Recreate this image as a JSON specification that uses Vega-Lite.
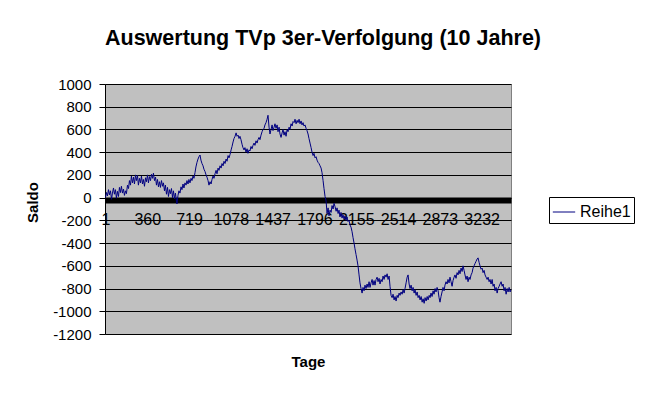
{
"$schema": "https://vega.github.io/schema/vega-lite/v6.json",
"width": 406, "height": 250,
"autosize": {"type": "none"},
"padding": {"left": 105, "top": 84, "right": 134, "bottom": 61},
"background": "white",
"title": {"text": "Auswertung TVp 3er-Verfolgung (10 Jahre)", "font": "Liberation Sans", "fontSize": 21.5, "fontWeight": "bold", "color": "black", "anchor": "middle", "dx": 15, "baseline": "alphabetic", "offset": 11},
"data": {"values": [
{"Tag":1,"Saldo":0},{"Tag":10,"Saldo":45},{"Tag":18,"Saldo":15},{"Tag":27,"Saldo":70},{"Tag":35,"Saldo":25},{"Tag":44,"Saldo":60},{"Tag":53,"Saldo":-15},{"Tag":61,"Saldo":40},{"Tag":70,"Saldo":85},{"Tag":78,"Saldo":30},{"Tag":87,"Saldo":70},{"Tag":95,"Saldo":-5},{"Tag":104,"Saldo":55},{"Tag":113,"Saldo":10},{"Tag":121,"Saldo":90},{"Tag":130,"Saldo":45},{"Tag":138,"Saldo":100},{"Tag":147,"Saldo":40},{"Tag":156,"Saldo":75},{"Tag":164,"Saldo":20},{"Tag":173,"Saldo":60},{"Tag":181,"Saldo":35},{"Tag":190,"Saldo":110},{"Tag":199,"Saldo":80},{"Tag":207,"Saldo":150},{"Tag":216,"Saldo":110},{"Tag":224,"Saldo":190},{"Tag":233,"Saldo":130},{"Tag":242,"Saldo":180},{"Tag":250,"Saldo":120},{"Tag":259,"Saldo":200},{"Tag":267,"Saldo":150},{"Tag":276,"Saldo":195},{"Tag":284,"Saldo":110},{"Tag":293,"Saldo":170},{"Tag":302,"Saldo":130},{"Tag":310,"Saldo":190},{"Tag":319,"Saldo":120},{"Tag":327,"Saldo":160},{"Tag":336,"Saldo":100},{"Tag":345,"Saldo":175},{"Tag":353,"Saldo":140},{"Tag":362,"Saldo":200},{"Tag":370,"Saldo":130},{"Tag":379,"Saldo":185},{"Tag":388,"Saldo":150},{"Tag":396,"Saldo":205},{"Tag":405,"Saldo":170},{"Tag":413,"Saldo":215},{"Tag":422,"Saldo":150},{"Tag":431,"Saldo":180},{"Tag":439,"Saldo":110},{"Tag":448,"Saldo":160},{"Tag":456,"Saldo":95},{"Tag":465,"Saldo":140},{"Tag":473,"Saldo":90},{"Tag":482,"Saldo":150},{"Tag":491,"Saldo":100},{"Tag":499,"Saldo":130},{"Tag":508,"Saldo":60},{"Tag":516,"Saldo":110},{"Tag":525,"Saldo":30},{"Tag":534,"Saldo":90},{"Tag":542,"Saldo":10},{"Tag":551,"Saldo":70},{"Tag":559,"Saldo":35},{"Tag":568,"Saldo":80},{"Tag":577,"Saldo":0},{"Tag":585,"Saldo":60},{"Tag":594,"Saldo":-10},{"Tag":602,"Saldo":40},{"Tag":611,"Saldo":-30},
{"Tag":615,"Saldo":-55},{"Tag":624,"Saldo":20},{"Tag":632,"Saldo":60},{"Tag":641,"Saldo":40},{"Tag":650,"Saldo":95},{"Tag":658,"Saldo":70},{"Tag":667,"Saldo":120},{"Tag":675,"Saldo":85},{"Tag":684,"Saldo":130},{"Tag":693,"Saldo":110},{"Tag":701,"Saldo":150},{"Tag":710,"Saldo":120},{"Tag":718,"Saldo":160},{"Tag":727,"Saldo":130},{"Tag":736,"Saldo":170},{"Tag":744,"Saldo":150},{"Tag":753,"Saldo":190},{"Tag":761,"Saldo":170},{"Tag":770,"Saldo":220},{"Tag":778,"Saldo":270},{"Tag":787,"Saldo":310},{"Tag":796,"Saldo":340},{"Tag":804,"Saldo":360},{"Tag":813,"Saldo":375},
{"Tag":821,"Saldo":330},{"Tag":830,"Saldo":300},{"Tag":839,"Saldo":280},{"Tag":847,"Saldo":250},{"Tag":856,"Saldo":230},{"Tag":865,"Saldo":200},{"Tag":873,"Saldo":180},{"Tag":882,"Saldo":150},{"Tag":890,"Saldo":110},{"Tag":899,"Saldo":140},
{"Tag":908,"Saldo":120},{"Tag":916,"Saldo":160},{"Tag":925,"Saldo":190},{"Tag":933,"Saldo":170},{"Tag":942,"Saldo":210},{"Tag":951,"Saldo":240},{"Tag":959,"Saldo":210},{"Tag":968,"Saldo":260},{"Tag":976,"Saldo":240},{"Tag":985,"Saldo":280},
{"Tag":994,"Saldo":260},{"Tag":1002,"Saldo":300},{"Tag":1011,"Saldo":280},{"Tag":1019,"Saldo":320},{"Tag":1028,"Saldo":300},{"Tag":1037,"Saldo":340},{"Tag":1045,"Saldo":320},{"Tag":1054,"Saldo":370},{"Tag":1062,"Saldo":350},{"Tag":1071,"Saldo":380},
{"Tag":1080,"Saldo":420},{"Tag":1088,"Saldo":450},{"Tag":1097,"Saldo":490},{"Tag":1105,"Saldo":520},{"Tag":1114,"Saldo":540},{"Tag":1123,"Saldo":570},{"Tag":1131,"Saldo":540},{"Tag":1140,"Saldo":550},{"Tag":1148,"Saldo":520},{"Tag":1156,"Saldo":540},
{"Tag":1165,"Saldo":510},{"Tag":1174,"Saldo":470},{"Tag":1182,"Saldo":440},{"Tag":1191,"Saldo":420},{"Tag":1199,"Saldo":440},{"Tag":1208,"Saldo":400},{"Tag":1217,"Saldo":430},{"Tag":1225,"Saldo":390},{"Tag":1234,"Saldo":420},{"Tag":1242,"Saldo":410},
{"Tag":1251,"Saldo":450},{"Tag":1260,"Saldo":430},{"Tag":1268,"Saldo":460},{"Tag":1277,"Saldo":480},{"Tag":1285,"Saldo":460},{"Tag":1294,"Saldo":500},{"Tag":1303,"Saldo":480},{"Tag":1311,"Saldo":510},{"Tag":1320,"Saldo":530},{"Tag":1328,"Saldo":510},
{"Tag":1337,"Saldo":550},{"Tag":1346,"Saldo":580},{"Tag":1354,"Saldo":600},{"Tag":1363,"Saldo":610},{"Tag":1371,"Saldo":640},{"Tag":1380,"Saldo":660},{"Tag":1389,"Saldo":690},{"Tag":1397,"Saldo":725},{"Tag":1406,"Saldo":620},{"Tag":1414,"Saldo":560},
{"Tag":1423,"Saldo":600},{"Tag":1432,"Saldo":640},{"Tag":1440,"Saldo":590},{"Tag":1449,"Saldo":620},{"Tag":1457,"Saldo":650},{"Tag":1466,"Saldo":610},{"Tag":1475,"Saldo":640},{"Tag":1483,"Saldo":580},{"Tag":1492,"Saldo":620},{"Tag":1500,"Saldo":560},
{"Tag":1509,"Saldo":530},{"Tag":1518,"Saldo":570},{"Tag":1526,"Saldo":600},{"Tag":1535,"Saldo":550},{"Tag":1543,"Saldo":580},{"Tag":1552,"Saldo":540},{"Tag":1561,"Saldo":600},{"Tag":1569,"Saldo":580},{"Tag":1578,"Saldo":620},{"Tag":1586,"Saldo":600},
{"Tag":1595,"Saldo":650},{"Tag":1604,"Saldo":630},{"Tag":1612,"Saldo":670},{"Tag":1621,"Saldo":660},{"Tag":1629,"Saldo":690},{"Tag":1638,"Saldo":650},{"Tag":1647,"Saldo":680},{"Tag":1655,"Saldo":660},{"Tag":1664,"Saldo":690},{"Tag":1672,"Saldo":650},
{"Tag":1681,"Saldo":675},{"Tag":1689,"Saldo":640},{"Tag":1698,"Saldo":660},{"Tag":1706,"Saldo":630},{"Tag":1715,"Saldo":640},{"Tag":1724,"Saldo":610},{"Tag":1732,"Saldo":590},{"Tag":1741,"Saldo":560},{"Tag":1749,"Saldo":520},{"Tag":1758,"Saldo":480},
{"Tag":1767,"Saldo":440},{"Tag":1775,"Saldo":400},{"Tag":1784,"Saldo":370},{"Tag":1792,"Saldo":390},{"Tag":1801,"Saldo":350},{"Tag":1810,"Saldo":360},{"Tag":1818,"Saldo":330},{"Tag":1827,"Saldo":310},{"Tag":1835,"Saldo":300},{"Tag":1844,"Saldo":280},
{"Tag":1853,"Saldo":260},{"Tag":1861,"Saldo":220},{"Tag":1870,"Saldo":150},{"Tag":1878,"Saldo":80},{"Tag":1887,"Saldo":10},{"Tag":1896,"Saldo":-30},{"Tag":1904,"Saldo":-140},{"Tag":1913,"Saldo":-90},{"Tag":1921,"Saldo":-160},{"Tag":1930,"Saldo":-110},
{"Tag":1939,"Saldo":-130},{"Tag":1947,"Saldo":-70},{"Tag":1956,"Saldo":-100},{"Tag":1964,"Saldo":-50},{"Tag":1973,"Saldo":-80},{"Tag":1982,"Saldo":-120},{"Tag":1990,"Saldo":-90},{"Tag":1999,"Saldo":-140},{"Tag":2007,"Saldo":-110},{"Tag":2015,"Saldo":-170},
{"Tag":2024,"Saldo":-130},{"Tag":2033,"Saldo":-180},{"Tag":2041,"Saldo":-150},{"Tag":2050,"Saldo":-190},{"Tag":2058,"Saldo":-160},{"Tag":2067,"Saldo":-200},{"Tag":2076,"Saldo":-170},{"Tag":2084,"Saldo":-210},{"Tag":2093,"Saldo":-200},{"Tag":2101,"Saldo":-240},
{"Tag":2110,"Saldo":-260},{"Tag":2119,"Saldo":-300},{"Tag":2127,"Saldo":-350},{"Tag":2136,"Saldo":-400},{"Tag":2144,"Saldo":-450},{"Tag":2153,"Saldo":-500},{"Tag":2162,"Saldo":-550},{"Tag":2170,"Saldo":-600},{"Tag":2179,"Saldo":-680},{"Tag":2187,"Saldo":-750},
{"Tag":2196,"Saldo":-800},{"Tag":2205,"Saldo":-840},{"Tag":2213,"Saldo":-790},{"Tag":2222,"Saldo":-820},{"Tag":2230,"Saldo":-770},{"Tag":2239,"Saldo":-800},{"Tag":2248,"Saldo":-760},{"Tag":2256,"Saldo":-790},{"Tag":2265,"Saldo":-740},{"Tag":2273,"Saldo":-790},
{"Tag":2282,"Saldo":-750},{"Tag":2291,"Saldo":-720},{"Tag":2299,"Saldo":-770},{"Tag":2308,"Saldo":-730},{"Tag":2316,"Saldo":-770},{"Tag":2325,"Saldo":-720},{"Tag":2334,"Saldo":-700},{"Tag":2342,"Saldo":-740},{"Tag":2351,"Saldo":-710},{"Tag":2359,"Saldo":-760},
{"Tag":2368,"Saldo":-720},{"Tag":2377,"Saldo":-740},{"Tag":2385,"Saldo":-690},{"Tag":2394,"Saldo":-720},{"Tag":2402,"Saldo":-680},{"Tag":2411,"Saldo":-700},{"Tag":2420,"Saldo":-670},{"Tag":2428,"Saldo":-720},{"Tag":2437,"Saldo":-690},{"Tag":2445,"Saldo":-780},
{"Tag":2454,"Saldo":-860},{"Tag":2463,"Saldo":-880},{"Tag":2471,"Saldo":-850},{"Tag":2480,"Saldo":-900},{"Tag":2488,"Saldo":-870},{"Tag":2497,"Saldo":-910},{"Tag":2506,"Saldo":-860},{"Tag":2514,"Saldo":-880},{"Tag":2523,"Saldo":-840},{"Tag":2531,"Saldo":-860},
{"Tag":2540,"Saldo":-830},{"Tag":2549,"Saldo":-850},{"Tag":2557,"Saldo":-810},{"Tag":2566,"Saldo":-840},{"Tag":2574,"Saldo":-800},{"Tag":2583,"Saldo":-750},{"Tag":2592,"Saldo":-700},{"Tag":2600,"Saldo":-680},{"Tag":2609,"Saldo":-760},{"Tag":2617,"Saldo":-800},
{"Tag":2626,"Saldo":-770},{"Tag":2635,"Saldo":-820},{"Tag":2643,"Saldo":-790},{"Tag":2652,"Saldo":-840},{"Tag":2660,"Saldo":-810},{"Tag":2669,"Saldo":-860},{"Tag":2678,"Saldo":-830},{"Tag":2686,"Saldo":-880},{"Tag":2695,"Saldo":-860},{"Tag":2703,"Saldo":-900},
{"Tag":2712,"Saldo":-870},{"Tag":2721,"Saldo":-920},{"Tag":2729,"Saldo":-890},{"Tag":2738,"Saldo":-930},{"Tag":2746,"Saldo":-880},{"Tag":2755,"Saldo":-910},{"Tag":2764,"Saldo":-870},{"Tag":2772,"Saldo":-900},{"Tag":2781,"Saldo":-860},{"Tag":2789,"Saldo":-880},
{"Tag":2797,"Saldo":-840},{"Tag":2806,"Saldo":-870},{"Tag":2815,"Saldo":-820},{"Tag":2823,"Saldo":-850},{"Tag":2832,"Saldo":-800},{"Tag":2840,"Saldo":-830},{"Tag":2849,"Saldo":-790},{"Tag":2858,"Saldo":-820},{"Tag":2866,"Saldo":-880},{"Tag":2874,"Saldo":-920},
{"Tag":2883,"Saldo":-870},{"Tag":2892,"Saldo":-830},{"Tag":2900,"Saldo":-790},{"Tag":2909,"Saldo":-820},{"Tag":2917,"Saldo":-770},{"Tag":2926,"Saldo":-740},{"Tag":2935,"Saldo":-760},{"Tag":2943,"Saldo":-720},{"Tag":2952,"Saldo":-750},{"Tag":2960,"Saldo":-700},
{"Tag":2969,"Saldo":-740},{"Tag":2978,"Saldo":-780},{"Tag":2986,"Saldo":-730},{"Tag":2995,"Saldo":-700},{"Tag":3003,"Saldo":-680},{"Tag":3012,"Saldo":-710},{"Tag":3021,"Saldo":-660},{"Tag":3029,"Saldo":-680},{"Tag":3038,"Saldo":-640},{"Tag":3046,"Saldo":-670},
{"Tag":3055,"Saldo":-620},{"Tag":3064,"Saldo":-650},{"Tag":3072,"Saldo":-600},{"Tag":3081,"Saldo":-640},{"Tag":3089,"Saldo":-680},{"Tag":3098,"Saldo":-720},{"Tag":3107,"Saldo":-690},{"Tag":3115,"Saldo":-740},{"Tag":3124,"Saldo":-700},{"Tag":3132,"Saldo":-720},
{"Tag":3141,"Saldo":-680},{"Tag":3150,"Saldo":-660},{"Tag":3158,"Saldo":-620},{"Tag":3167,"Saldo":-600},{"Tag":3175,"Saldo":-580},{"Tag":3184,"Saldo":-560},{"Tag":3193,"Saldo":-540},{"Tag":3201,"Saldo":-530},{"Tag":3210,"Saldo":-570},{"Tag":3218,"Saldo":-600},
{"Tag":3227,"Saldo":-630},{"Tag":3236,"Saldo":-620},{"Tag":3244,"Saldo":-660},{"Tag":3253,"Saldo":-640},{"Tag":3261,"Saldo":-680},{"Tag":3270,"Saldo":-700},{"Tag":3279,"Saldo":-720},{"Tag":3287,"Saldo":-700},{"Tag":3296,"Saldo":-740},{"Tag":3304,"Saldo":-720},
{"Tag":3313,"Saldo":-760},{"Tag":3322,"Saldo":-720},{"Tag":3330,"Saldo":-780},{"Tag":3339,"Saldo":-760},{"Tag":3347,"Saldo":-820},{"Tag":3356,"Saldo":-790},{"Tag":3365,"Saldo":-840},{"Tag":3373,"Saldo":-800},{"Tag":3382,"Saldo":-780},{"Tag":3390,"Saldo":-760},
{"Tag":3399,"Saldo":-740},{"Tag":3408,"Saldo":-780},{"Tag":3416,"Saldo":-760},{"Tag":3425,"Saldo":-820},{"Tag":3433,"Saldo":-790},{"Tag":3442,"Saldo":-850},{"Tag":3451,"Saldo":-800},{"Tag":3459,"Saldo":-830},{"Tag":3468,"Saldo":-790},{"Tag":3476,"Saldo":-830},{"Tag":3484,"Saldo":-810}
]},
"mark": {"type": "line", "strokeWidth": 1},
"encoding": {
  "x": {"field": "Tag", "type": "quantitative", "scale": {"domain": [-3, 3484], "nice": false, "zero": false},
    "axis": {"orient": "bottom", "offset": -134, "values": [1,360,719,1078,1437,1796,2155,2514,2873,3232], "format": "d", "grid": false, "ticks": false, "domainColor": "black", "domainWidth": 6, "labelFont": "Liberation Sans", "labelFontSize": 16, "labelColor": "black", "labelPadding": 11, "labelFlush": false, "labelOverlap": false, "labelBound": false, "title": "Tage", "titleFont": "Liberation Sans", "titleFontSize": 15, "titleFontWeight": "bold", "titleColor": "black", "titleX": 203, "titleY": 166, "titleBaseline": "alphabetic", "titleAlign": "center"}},
  "y": {"field": "Saldo", "type": "quantitative", "scale": {"domain": [-1200, 1000], "nice": false, "zero": false},
    "axis": {"values": [-1200,-1000,-800,-600,-400,-200,0,200,400,600,800,1000], "labelExpr": "'' + datum.value", "grid": true, "gridColor": "black", "domainColor": "black", "tickColor": "black", "tickSize": 6, "labelPadding": 8, "labelFont": "Liberation Sans", "labelFontSize": 15, "labelColor": "black", "title": "Saldo", "titleFont": "Liberation Sans", "titleFontSize": 15, "titleFontWeight": "bold", "titleColor": "black", "titleX": -68, "titleY": 118, "titleAngle": -90, "titleBaseline": "alphabetic", "titleAlign": "center"}},
  "color": {"datum": "Reihe1", "type": "nominal", "scale": {"range": ["#000080"]},
    "legend": {"orient": "none", "legendX": 444, "legendY": 113, "title": null, "strokeColor": "black", "fillColor": "white", "padding": 3, "symbolType": "stroke", "symbolSize": 500, "symbolStrokeWidth": 1, "labelFont": "Liberation Sans", "labelFontSize": 16, "labelColor": "black", "labelOffset": 4}}
},
"config": {"view": {"fill": "#c0c0c0", "stroke": "#808080"}}
}
